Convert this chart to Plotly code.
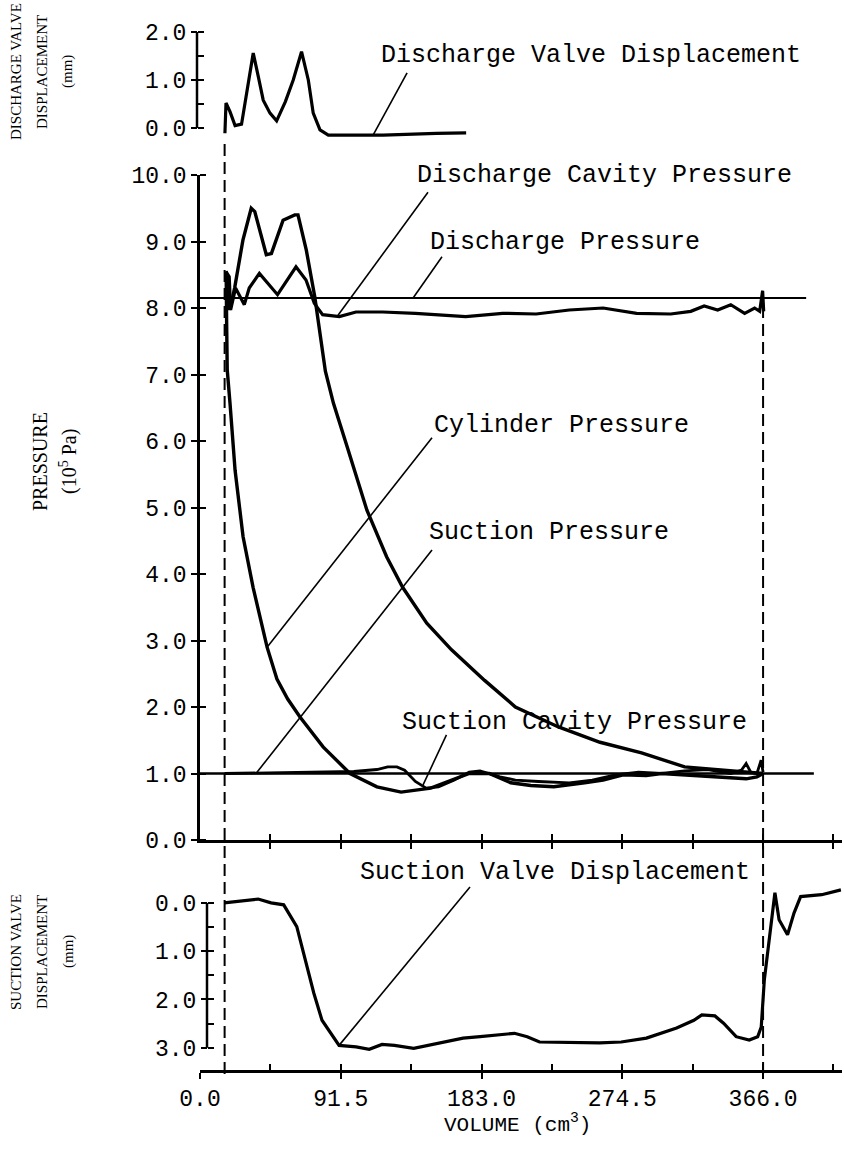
import plotly.graph_objects as go

# ---------------- data ----------------
# Discharge valve displacement (mm) vs volume (cm3)
DVD_X = [16.2, 16.9, 19.5, 22.8, 27.0, 30.3, 34.6, 37.9, 41.1, 45.5, 49.8, 55.5, 60.6, 66.0,
         70.4, 73.6, 78.0, 83.4, 119.0, 153.6, 173.0]
DVD_Y = [-0.11, 0.52, 0.34, 0.05, 0.08, 0.72, 1.56, 1.07, 0.58, 0.31, 0.15, 0.55, 1.00, 1.59,
         1.00, 0.31, -0.04, -0.15, -0.15, -0.11, -0.10]

# Cylinder pressure loop (1e5 Pa)
CYL_X = [366, 355, 337, 315, 287, 260, 233, 205, 185, 163.5, 147.4, 131.7, 121.3, 108.5, 95.7,
         86.7, 81.5, 74.6, 69.1, 63.7, 61.6, 54.0, 46.4, 43.1, 35.6, 33.3, 27.9, 22.5, 19.3,
         17.0, 17.3, 17.7, 19.5, 22.8, 28.0, 34.5, 43.6, 50.0, 57.0, 65.0, 80.0, 97.5, 115.0,
         130.7, 150.0, 165.0, 175.0, 188.0, 202.0, 215.0, 230.0, 250.0, 262.0, 275.0, 290.0,
         300.0, 315.0, 330.0, 345.0, 355.0, 362.0, 366.0]
CYL_P = [1.00, 1.02, 1.05, 1.10, 1.31, 1.47, 1.70, 2.00, 2.40, 2.86, 3.26, 3.80, 4.26, 4.96, 5.91,
         6.57, 7.05, 8.17, 8.87, 9.40, 9.40, 9.32, 8.82, 8.80, 9.45, 9.50, 9.02, 8.30, 7.97,
         8.55, 7.80, 7.07, 6.57, 5.56, 4.56, 3.80, 2.90, 2.42, 2.12, 1.85, 1.40, 1.00, 0.80,
         0.72, 0.78, 0.92, 1.00, 1.00, 0.86, 0.82, 0.80, 0.86, 0.90, 0.98, 0.97,
         1.00, 0.98, 0.95, 0.93, 0.92, 0.95, 1.00]

# Discharge cavity pressure
DC_X = [16.8, 19.0, 19.9, 23.1, 28.8, 32.0, 38.6, 50.4, 62.4, 68.9, 74.3, 79.7, 90.6, 101.4,
        118.7, 140.0, 172.7, 196.7, 218.5, 240.0, 262.0, 283.8, 306.0, 319.0, 327.7, 336.5,
        345.0, 354.0, 360.5, 363.8, 365.7, 366.4]
DC_P = [8.55, 8.47, 7.97, 8.30, 8.05, 8.30, 8.52, 8.20, 8.62, 8.42, 8.07, 7.90, 7.87, 7.94,
        7.94, 7.92, 7.87, 7.92, 7.91, 7.97, 8.00, 7.92, 7.91, 7.95, 8.03, 7.97,
        8.05, 7.92, 8.00, 7.95, 8.26, 7.95]

# Discharge / suction line pressures
DP_X = [0, 394]
DP_P = [8.15, 8.15]
SP_X = [0, 399]
SP_P = [1.00, 1.00]

# Suction cavity pressure
SC_X = [16, 60, 100, 115, 122, 128, 133, 140, 147, 155, 165, 175, 182, 195, 205, 220, 240, 255,
        270, 285, 300, 315, 330, 345, 352, 355, 358, 362, 364.7, 366]
SC_P = [1.00, 1.02, 1.03, 1.06, 1.10, 1.10, 1.05, 0.88, 0.78, 0.80, 0.90, 1.02, 1.04, 0.95, 0.90,
        0.88, 0.86, 0.90, 0.98, 1.02, 1.00, 1.04, 1.06, 1.00, 1.05, 1.15, 1.02, 1.00, 1.20, 1.02]

# Suction valve displacement (mm)
SVD_X = [15.7, 24.0, 37.8, 46.2, 54.4, 62.9, 68.1, 74.0, 79.3, 90.4, 101.5, 110.0, 118.3, 126.4,
         138.9, 148.7, 171.0, 182.1, 204.4, 212.7, 220.7, 259.8, 273.8, 290.2, 309.8, 321.0,
         326.2, 334.7, 340.3, 348.5, 357.0, 362.5, 364.8, 366.8, 373.7, 376.4, 381.9, 386.1,
         390.4, 404.1, 416.6]
SVD_Y = [0.00, -0.03, -0.08, 0.00, 0.04, 0.49, 1.11, 1.87, 2.43, 2.95, 2.98, 3.03, 2.93, 2.95,
         3.01, 2.95, 2.80, 2.77, 2.70, 2.77, 2.88, 2.90, 2.88, 2.80, 2.59, 2.43,
         2.32, 2.34, 2.49, 2.77, 2.84, 2.77, 2.57, 1.60, -0.21, 0.35, 0.66, 0.21,
         -0.13, -0.17, -0.27]

# ticks
X_MARKS = [45.75, 91.5, 137.25, 183.0, 228.75, 274.5, 320.25, 366.0, 411.75]
X_LABEL_VALS = [0, 91.5, 183.0, 274.5, 366.0]
X_LABEL_TEXT = ["0.0", "91.5", "183.0", "274.5", "366.0"]
P_TICKS = [0, 1, 2, 3, 4, 5, 6, 7, 8, 9, 10]
P_TICK_TEXT = ["0.0", "1.0", "2.0", "3.0", "4.0", "5.0", "6.0", "7.0", "8.0", "9.0", "10.0"]
DV_MARKS = [0, 0.5, 1.0, 1.5, 2.0]
DV_LABEL_VALS = [0, 1.0, 2.0]
DV_LABEL_TEXT = ["0.0", "1.0", "2.0"]
SV_MARKS = [0, 0.5, 1.0, 1.5, 2.0, 2.5, 3.0]
SV_LABEL_VALS = [0, 1.0, 2.0, 3.0]
SV_LABEL_TEXT = ["0.0", "1.0", "2.0", "3.0"]

CLEARANCE_V = 16
BDC_V = 366

# ---------------- layout helpers ----------------
W, H = 844, 1166
X0_PX = 200.0
PX_PER_UNIT = 1 / 0.65
X_MAX = 417
DOM_X = [X0_PX / W, (X0_PX + X_MAX * PX_PER_UNIT) / W]


def pfy(py):
    return 1 - py / H


MONO = "Liberation Mono, Courier New, monospace"
SERIF = "Liberation Serif, Times New Roman, serif"
TXT_FONT = dict(family=MONO, size=25, color="black")
TICK_FONT = dict(family=MONO, size=23, color="black")

fig = go.Figure()
thick = dict(color="black", width=3.2)
fig.add_trace(go.Scatter(x=DVD_X, y=DVD_Y, xaxis="x", yaxis="y", mode="lines", line=thick))
fig.add_trace(go.Scatter(x=DP_X, y=DP_P, xaxis="x2", yaxis="y2", mode="lines",
                         line=dict(color="black", width=2.2)))
fig.add_trace(go.Scatter(x=SP_X, y=SP_P, xaxis="x2", yaxis="y2", mode="lines",
                         line=dict(color="black", width=2.6)))
fig.add_trace(go.Scatter(x=DC_X, y=DC_P, xaxis="x2", yaxis="y2", mode="lines", line=thick))
fig.add_trace(go.Scatter(x=SC_X, y=SC_P, xaxis="x2", yaxis="y2", mode="lines",
                         line=dict(color="black", width=2.8)))
fig.add_trace(go.Scatter(x=CYL_X, y=CYL_P, xaxis="x2", yaxis="y2", mode="lines",
                         line=dict(color="black", width=3.4)))
fig.add_trace(go.Scatter(x=SVD_X, y=SVD_Y, xaxis="x3", yaxis="y3", mode="lines", line=thick))

tick_common = dict(ticks="outside", ticklen=6, tickwidth=2, tickcolor="black",
                   tickfont=TICK_FONT, showgrid=False, zeroline=False, automargin=False)


def minor_in(vals):
    return dict(tickvals=vals, ticks="inside", ticklen=6, tickwidth=2, tickcolor="black",
                showgrid=False)


fig.update_layout(
    width=W, height=H, margin=dict(l=0, r=0, t=0, b=0),
    paper_bgcolor="white", plot_bgcolor="rgba(0,0,0,0)", showlegend=False,
    hovermode=False,
    xaxis=dict(domain=DOM_X, range=[0, X_MAX], anchor="y", visible=False),
    yaxis=dict(domain=[pfy(140), pfy(32)], range=[-0.25, 2.0], anchor="free", position=197 / W,
               tickmode="array", tickvals=DV_LABEL_VALS, ticktext=DV_LABEL_TEXT, showline=False,
               minor=minor_in(DV_MARKS), **tick_common),
    xaxis2=dict(domain=DOM_X, range=[0, X_MAX], anchor="y2", showline=True, linewidth=2.5,
                linecolor="black", tickmode="array", tickvals=X_MARKS,
                showticklabels=False, minor=minor_in(X_MARKS), **tick_common),
    yaxis2=dict(domain=[pfy(840), pfy(175)], range=[0, 10], anchor="x2", showline=True,
                linewidth=2.5, linecolor="black", tickmode="array", tickvals=P_TICKS,
                ticktext=P_TICK_TEXT, minor=minor_in(P_TICKS), **tick_common),
    xaxis3=dict(domain=DOM_X, range=[0, X_MAX], anchor="y3", showline=True, linewidth=2.5,
                linecolor="black", tickmode="array", tickvals=X_LABEL_VALS,
                ticktext=X_LABEL_TEXT, minor=minor_in(X_MARKS), **tick_common),
    yaxis3=dict(domain=[pfy(1070), pfy(886)], range=[3.46, -0.35], anchor="free",
                position=207 / W, showline=False, tickmode="array", tickvals=SV_LABEL_VALS,
                ticktext=SV_LABEL_TEXT, minor=minor_in(SV_MARKS), **tick_common),
)

shapes = []
# axis lines for the two valve panels (only between 0 and max)
shapes.append(dict(type="line", xref="paper", yref="y", x0=197 / W, x1=197 / W, y0=0, y1=2.0,
                   line=dict(color="black", width=2.5)))
shapes.append(dict(type="line", xref="paper", yref="y3", x0=207 / W, x1=207 / W, y0=0, y1=3.0,
                   line=dict(color="black", width=2.5)))
# dashed volume limits
shapes.append(dict(type="line", xref="x2", yref="paper", x0=CLEARANCE_V, x1=CLEARANCE_V,
                   y0=pfy(1074), y1=pfy(140), line=dict(color="black", width=2, dash="12px,6px")))
shapes.append(dict(type="line", xref="x2", yref="paper", x0=BDC_V, x1=BDC_V,
                   y0=pfy(1074), y1=pfy(300), line=dict(color="black", width=2, dash="12px,6px")))

# leader lines: (xref, yref, x0, y0, x1, y1)
leaders = [
    ("x", "y", 134.6, 1.146, 112.5, -0.15),
    ("x2", "y2", 148.2, 9.74, 89.7, 7.89),
    ("x2", "y2", 157.3, 8.77, 138.5, 8.15),
    ("x2", "y2", 150.8, 6.05, 43.6, 2.90),
    ("x2", "y2", 150.8, 4.36, 36.4, 1.00),
    ("x2", "y2", 160.2, 1.58, 145.0, 0.83),
    ("x3", "y3", 175.5, -0.33, 90.4, 2.95),
]
for xr, yr, x0, y0, x1, y1 in leaders:
    shapes.append(dict(type="line", xref=xr, yref=yr, x0=x0, y0=y0, x1=x1, y1=y1,
                       line=dict(color="black", width=1.6)))
fig.update_layout(shapes=shapes)

ann = []
labels = [
    ("Discharge Valve Displacement", "x", "y", 116.4, 1.52),
    ("Discharge Cavity Pressure", "x2", "y2", 139.8, 10.0),
    ("Discharge Pressure", "x2", "y2", 148.2, 8.99),
    ("Cylinder Pressure", "x2", "y2", 150.8, 6.24),
    ("Suction Pressure", "x2", "y2", 147.6, 4.62),
    ("Suction Cavity Pressure", "x2", "y2", 130.0, 1.77),
]
for t, xr, yr, x, y in labels:
    ann.append(dict(text=t, xref=xr, yref=yr, x=x, y=y, xanchor="left", yanchor="middle",
                    showarrow=False, font=TXT_FONT))
ann.append(dict(text="Suction Valve Displacement", xref="x3", yref="paper", x=102.7, y=pfy(872),
                xanchor="left", yanchor="middle", showarrow=False, font=TXT_FONT))

# rotated axis titles: (text, center x px, center y px, font size)
titles = [
    ("DISCHARGE VALVE", 16, 72, 15), ("DISPLACEMENT", 42, 72, 15), ("(mm)", 68, 72, 15),
    ("PRESSURE", 40, 462, 20), ("(10<sup>5</sup> Pa)", 68, 462, 20),
    ("SUCTION VALVE", 16, 952, 15), ("DISPLACEMENT", 42, 952, 15), ("(mm)", 68, 952, 15),
]
for t, px, py, fs in titles:
    ann.append(dict(text=t, xref="paper", yref="paper", x=px / W, y=pfy(py), xanchor="center",
                    yanchor="middle", textangle=-90, showarrow=False,
                    font=dict(family=SERIF, size=fs, color="black")))

ann.append(dict(text="VOLUME (cm<sup>3</sup>)", xref="paper", yref="paper", x=517 / W,
                y=pfy(1123), xanchor="center", yanchor="middle", showarrow=False,
                font=dict(family=MONO, size=21, color="black")))
fig.update_layout(annotations=ann)

fig.write_html("out.html")
